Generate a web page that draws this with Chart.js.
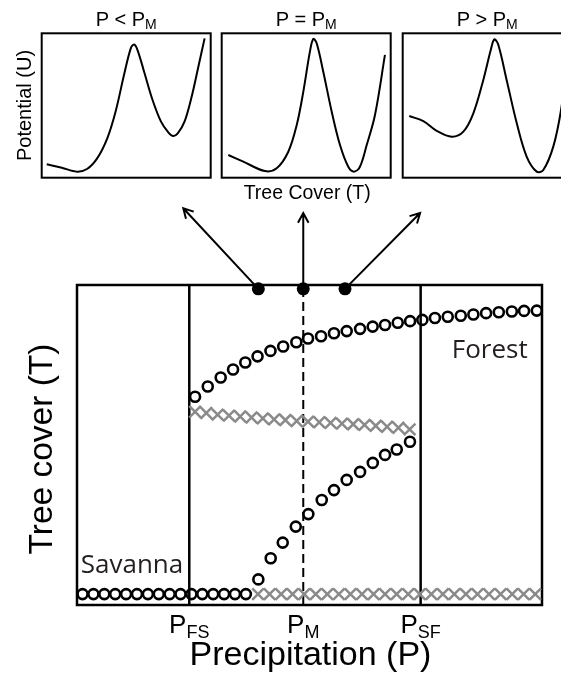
<!DOCTYPE html>
<html>
<head>
<meta charset="utf-8">
<script src="https://cdn.jsdelivr.net/npm/chart.js@4.4.1/dist/chart.umd.min.js"></script>
<style>
  html, body { margin: 0; padding: 0; background: #fff; overflow: hidden; }
  #wrap { position: relative; width: 561px; height: 675px; overflow: hidden; }
  canvas { position: absolute; top: 0; }
</style>
</head>
<body>
<div id="wrap">
  <canvas id="main" width="561" height="675" style="left:0"></canvas>
  <canvas id="potLow" width="215" height="215" style="left:0"></canvas>
  <canvas id="potMid" width="215" height="215" style="left:180px"></canvas>
  <canvas id="potHigh" width="215" height="215" style="left:361px"></canvas>
</div>
<script>
var fontFamily = '"Liberation Sans", Arial, sans-serif';

// potential landscapes, tree cover (T) against potential (U)
var coverLow = [0.030, 0.119, 0.209, 0.268, 0.328, 0.388, 0.437, 0.487, 0.527, 0.547, 0.567, 0.606, 0.656, 0.706, 0.746, 0.776, 0.805, 0.845, 0.885, 0.925, 0.964];
var potLow   = [0.093, 0.069, 0.042, 0.060, 0.134, 0.273, 0.457, 0.711, 0.896, 0.922, 0.884, 0.734, 0.538, 0.388, 0.319, 0.289, 0.307, 0.388, 0.550, 0.758, 0.965];
var coverMid = [0.039, 0.128, 0.256, 0.325, 0.394, 0.444, 0.483, 0.522, 0.542, 0.562, 0.601, 0.651, 0.700, 0.749, 0.783, 0.818, 0.858, 0.907, 0.966];
var potMid   = [0.157, 0.111, 0.046, 0.065, 0.180, 0.365, 0.596, 0.873, 0.961, 0.931, 0.734, 0.457, 0.226, 0.076, 0.042, 0.076, 0.226, 0.434, 0.850];
var coverHigh = [0.039, 0.122, 0.201, 0.290, 0.359, 0.418, 0.477, 0.521, 0.542, 0.566, 0.615, 0.675, 0.734, 0.793, 0.832, 0.891, 0.937, 0.966];
var potHigh   = [0.427, 0.392, 0.325, 0.284, 0.319, 0.446, 0.677, 0.884, 0.958, 0.919, 0.677, 0.377, 0.145, 0.042, 0.053, 0.215, 0.469, 0.750];

// bifurcation diagram, precipitation (P) against tree cover (T)
var savannaP = [0.49, 1.45, 2.41, 3.37, 4.33, 5.29, 6.25, 7.21, 8.17, 9.13, 10.09, 11.05, 12.01, 12.97, 13.93, 14.89];
var savannaT = [0.034, 0.034, 0.034, 0.034, 0.034, 0.034, 0.034, 0.034, 0.034, 0.034, 0.034, 0.034, 0.034, 0.034, 0.034, 0.034];
var forestP = [10.41, 11.53, 12.67, 13.76, 14.84, 15.92, 17.06, 18.18, 19.34, 20.37, 21.52, 22.66, 23.78, 24.96, 26.07, 27.16, 28.28, 29.37, 30.45, 31.56, 32.69, 33.84, 34.95, 36.07, 37.19, 38.34, 39.42, 40.54];
var forestT = [0.651, 0.683, 0.711, 0.736, 0.758, 0.777, 0.794, 0.808, 0.821, 0.833, 0.840, 0.849, 0.856, 0.863, 0.870, 0.875, 0.882, 0.887, 0.891, 0.897, 0.901, 0.904, 0.908, 0.912, 0.915, 0.917, 0.919, 0.920];
var risingP = [15.99, 17.08, 18.14, 19.29, 20.40, 21.58, 22.66, 23.78, 24.96, 26.08, 27.16, 28.19, 29.36];
var risingT = [0.080, 0.146, 0.195, 0.245, 0.284, 0.328, 0.359, 0.391, 0.416, 0.444, 0.469, 0.486, 0.510];
var unstableP = [10.41, 11.40, 12.40, 13.40, 14.39, 15.39, 16.38, 17.38, 18.37, 19.37, 20.37, 21.36, 22.36, 23.36, 24.35, 25.35, 26.34, 27.34, 28.34, 29.33];
var unstableT = [0.604, 0.600, 0.595, 0.592, 0.589, 0.586, 0.583, 0.580, 0.578, 0.575, 0.573, 0.571, 0.569, 0.567, 0.565, 0.563, 0.560, 0.557, 0.554, 0.549];
var floorP = [15.96, 16.98, 18.00, 19.01, 20.03, 21.05, 22.07, 23.09, 24.11, 25.13, 26.15, 27.16, 28.18, 29.20, 30.22, 31.24, 32.26, 33.27, 34.29, 35.31, 36.33, 37.35, 38.37, 39.38, 40.40];
var floorT = [0.034, 0.034, 0.034, 0.034, 0.034, 0.034, 0.034, 0.034, 0.034, 0.034, 0.034, 0.034, 0.034, 0.034, 0.034, 0.034, 0.034, 0.034, 0.034, 0.034, 0.034, 0.034, 0.034, 0.034, 0.034];

// thresholds P_FS, P_M, P_SF
var thresholdP = [9.9, 19.95, 30.3];
var thresholdSub = ['FS', 'M', 'SF'];

// the three precipitation levels shown above, and where their arrows point
var sampleP = [15.99, 19.95, 23.63];
var sampleT = [0.988, 0.988, 0.988];
var arrowP = [9.37, 19.95, 30.25];
var arrowT = [1.24, 1.225, 1.225];

function zip(xs, ys) {
    return xs.map(function (v, i) { return { x: v, y: ys[i] }; });
}

function subText(ctx, base, sub, x, y, size, subSize, drop) {
    ctx.font = size + 'px ' + fontFamily;
    var w1 = ctx.measureText(base).width;
    ctx.font = subSize + 'px ' + fontFamily;
    var w2 = ctx.measureText(sub).width;
    var x0 = x - (w1 + w2) / 2;
    ctx.textAlign = 'left';
    ctx.textBaseline = 'alphabetic';
    ctx.font = size + 'px ' + fontFamily;
    ctx.fillText(base, x0, y);
    ctx.font = subSize + 'px ' + fontFamily;
    ctx.fillText(sub, x0 + w1, y + drop);
}

function arrow(ctx, x0, y0, x1, y1) {
    var ang = Math.atan2(y1 - y0, x1 - x0), h = 11;
    ctx.beginPath();
    ctx.moveTo(x0, y0);
    ctx.lineTo(x1, y1);
    ctx.moveTo(x1 - h * Math.cos(ang - 0.5), y1 - h * Math.sin(ang - 0.5));
    ctx.lineTo(x1, y1);
    ctx.lineTo(x1 - h * Math.cos(ang + 0.5), y1 - h * Math.sin(ang + 0.5));
    ctx.stroke();
}

var panelDecor = {
    id: 'panelDecor',
    afterDraw: function (chart, args, opts) {
        var ctx = chart.ctx, a = chart.chartArea;
        var cx = (a.left + a.right) / 2, cy = (a.top + a.bottom) / 2;
        ctx.save();
        ctx.lineWidth = 2;
        ctx.strokeStyle = '#000';
        ctx.strokeRect(a.left, a.top, a.right - a.left, a.bottom - a.top);
        ctx.fillStyle = '#000';
        subText(ctx, opts.title, 'M', cx, 26, 20, 14, 3);
        if (opts.xTitle) {
            ctx.font = '19.5px ' + fontFamily;
            ctx.textAlign = 'center';
            ctx.fillText(opts.xTitle, cx + 1, 199);
        }
        if (opts.yTitle) {
            ctx.translate(31, cy);
            ctx.rotate(-Math.PI / 2);
            ctx.font = '20px ' + fontFamily;
            ctx.textAlign = 'center';
            ctx.fillText(opts.yTitle, 0, 0);
        }
        ctx.restore();
    }
};

function drawPanel(canvasId, title, cover, pot, xTitle, yTitle) {
    new Chart(document.getElementById(canvasId), {
        type: 'scatter',
        data: {
            datasets: [{
                data: zip(cover, pot),
                showLine: true,
                borderColor: '#000',
                borderWidth: 2,
                pointRadius: 0,
                tension: 0.35
            }]
        },
        options: {
            responsive: false,
            animation: false,
            layout: { padding: { left: 41.7, right: 4.3, top: 33.3, bottom: 37.3 } },
            scales: {
                x: { type: 'linear', min: 0, max: 1, display: false },
                y: { type: 'linear', min: 0, max: 1, display: false }
            },
            plugins: {
                legend: { display: false },
                tooltip: { enabled: false },
                panelDecor: { title: title, xTitle: xTitle, yTitle: yTitle }
            }
        },
        plugins: [panelDecor]
    });
}

var mainDecor = {
    id: 'mainDecor',
    beforeDatasetsDraw: function (chart) {
        var ctx = chart.ctx, a = chart.chartArea;
        ctx.save();
        ctx.lineWidth = 2.5;
        ctx.strokeStyle = '#000';
        ctx.strokeRect(a.left, a.top, a.right - a.left, a.bottom - a.top);
        ctx.restore();
    },
    afterDatasetsDraw: function (chart) {
        var ctx = chart.ctx, a = chart.chartArea;
        var xs = chart.scales.x, ys = chart.scales.y;
        ctx.save();
        ctx.strokeStyle = '#000';
        ctx.lineWidth = 2;
        for (var i = 0; i < sampleP.length; i++) {
            arrow(ctx, xs.getPixelForValue(sampleP[i]), ys.getPixelForValue(sampleT[i]),
                xs.getPixelForValue(arrowP[i]), ys.getPixelForValue(arrowT[i]));
        }
        ctx.fillStyle = '#000';
        for (i = 0; i < thresholdP.length; i++) {
            subText(ctx, 'P', thresholdSub[i], xs.getPixelForValue(thresholdP[i]), a.bottom + 28, 26, 18, 5);
        }
        ctx.textAlign = 'center';
        ctx.textBaseline = 'alphabetic';
        ctx.font = '34px ' + fontFamily;
        ctx.fillText('Precipitation (P)', (a.left + a.right) / 2 + 1, a.bottom + 60);
        ctx.translate(a.left - 25, (a.top + a.bottom) / 2 + 4);
        ctx.rotate(-Math.PI / 2);
        ctx.font = '33.5px ' + fontFamily;
        ctx.fillText('Tree cover (T)', 0, 0);
        ctx.restore();

        ctx.save();
        ctx.fillStyle = '#231f20';
        ctx.font = '26px "Open Sans", sans-serif';
        ctx.textAlign = 'left';
        ctx.fillText('Savanna', xs.getPixelForValue(0.33), ys.getPixelForValue(0.1));
        ctx.fillText('Forest', xs.getPixelForValue(33.04), ys.getPixelForValue(0.772));
        ctx.restore();
    }
};

function thresholdLine(p, dashed) {
    return {
        data: [{ x: p, y: 0 }, { x: p, y: 1 }],
        showLine: true,
        borderColor: '#000',
        borderWidth: dashed ? 2 : 2.5,
        borderDash: dashed ? [9, 5] : [],
        pointRadius: 0
    };
}

var circleStyle = {
    pointStyle: 'circle',
    pointRadius: 5,
    pointBorderWidth: 2.6,
    pointBorderColor: '#000',
    pointBackgroundColor: 'rgba(0,0,0,0)'
};
var crossStyle = {
    pointStyle: 'crossRot',
    pointRadius: 8.2,
    pointBorderWidth: 2.5,
    pointBorderColor: '#8a8a8a'
};

new Chart(document.getElementById('main'), {
    type: 'scatter',
    data: {
        datasets: [
            { data: zip(sampleP, sampleT), pointRadius: 6.5, pointBackgroundColor: '#000', pointBorderColor: '#000', pointBorderWidth: 0 },
            Object.assign({ data: zip(savannaP, savannaT) }, circleStyle),
            Object.assign({ data: zip(forestP, forestT) }, circleStyle),
            Object.assign({ data: zip(risingP, risingT) }, circleStyle),
            Object.assign({ data: zip(unstableP, unstableT) }, crossStyle),
            Object.assign({ data: zip(floorP, floorT) }, crossStyle),
            thresholdLine(thresholdP[0], false),
            thresholdLine(thresholdP[1], true),
            thresholdLine(thresholdP[2], false)
        ]
    },
    options: {
        responsive: false,
        animation: false,
        clip: false,
        layout: { padding: { left: 77, right: 19, top: 285, bottom: 70 } },
        scales: {
            x: { type: 'linear', min: 0, max: 41, display: false },
            y: { type: 'linear', min: 0, max: 1, display: false }
        },
        plugins: {
            legend: { display: false },
            tooltip: { enabled: false }
        }
    },
    plugins: [mainDecor]
});

drawPanel('potLow', 'P < P', coverLow, potLow, null, 'Potential (U)');
drawPanel('potMid', 'P = P', coverMid, potMid, 'Tree Cover (T)', null);
drawPanel('potHigh', 'P > P', coverHigh, potHigh, null, null);
</script>
</body>
</html>
